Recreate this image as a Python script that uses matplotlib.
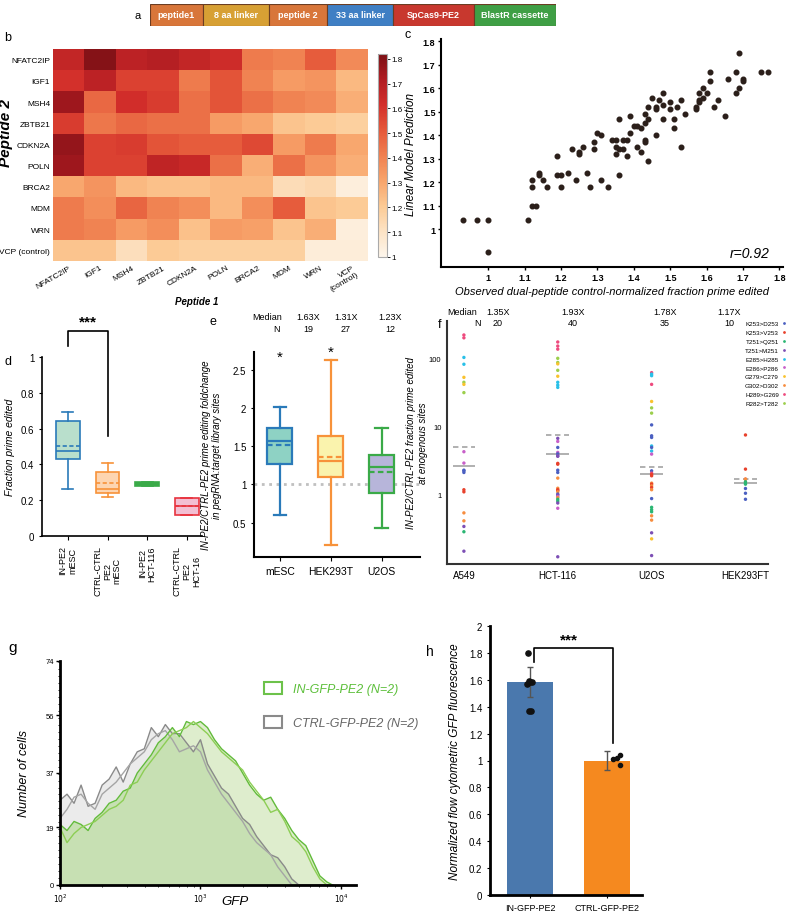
import numpy as np
import matplotlib.pyplot as plt
from matplotlib import font_manager
from matplotlib.colors import LinearSegmentedColormap
from matplotlib.patches import Patch
from matplotlib.lines import Line2D
from matplotlib.ticker import MultipleLocator, LogLocator, NullFormatter

plt.rcParams['font.family'] = ['Liberation Sans', 'DejaVu Sans']

W, H = 793, 912

# ---- panel a: construct ----
construct_parts = ["peptide1", "8 aa linker", "peptide 2", "33 aa linker", "SpCas9-PE2", "BlastR cassette"]
construct_len = [53, 66, 58, 66, 81, 82]
construct_colors = ["#d8763a", "#d7a034", "#d8763a", "#3f7fc4", "#c8382e", "#3f9f45"]

# ---- panel b: heatmap ----
peptides_1 = ["NFATC2IP", "IGF1", "MSH4", "ZBTB21", "CDKN2A", "POLN", "BRCA2", "MDM", "WRN", "VCP\n(control)"]
peptides_2 = ["NFATC2IP", "IGF1", "MSH4", "ZBTB21", "CDKN2A", "POLN", "BRCA2", "MDM", "WRN", "VCP (control)"]
heat = [
    [1.66, 1.80, 1.68, 1.70, 1.66, 1.63, 1.42, 1.40, 1.50, 1.38],
    [1.61, 1.68, 1.57, 1.57, 1.42, 1.52, 1.40, 1.33, 1.35, 1.25],
    [1.75, 1.47, 1.62, 1.58, 1.45, 1.52, 1.45, 1.40, 1.38, 1.28],
    [1.58, 1.43, 1.47, 1.45, 1.45, 1.33, 1.30, 1.22, 1.20, 1.18],
    [1.77, 1.57, 1.58, 1.52, 1.50, 1.50, 1.55, 1.33, 1.42, 1.30],
    [1.75, 1.57, 1.57, 1.67, 1.65, 1.45, 1.28, 1.45, 1.35, 1.28],
    [1.30, 1.35, 1.25, 1.23, 1.23, 1.25, 1.25, 1.13, 1.15, 1.04],
    [1.42, 1.37, 1.48, 1.40, 1.37, 1.25, 1.37, 1.50, 1.22, 1.20],
    [1.42, 1.40, 1.33, 1.37, 1.23, 1.33, 1.32, 1.22, 1.28, 1.04],
    [1.22, 1.22, 1.12, 1.20, 1.18, 1.18, 1.18, 1.18, 1.05, 1.05],
]

# ---- panel c: scatter ----
obs = [0.93, 0.97, 1.00, 1.00, 1.11, 1.12, 1.13, 1.12, 1.12, 1.14, 1.14, 1.15, 1.16, 1.19, 1.19, 1.20,
       1.20, 1.22, 1.23, 1.24, 1.25, 1.25, 1.26, 1.27, 1.28, 1.29, 1.29, 1.30, 1.31, 1.31, 1.33, 1.34,
       1.35, 1.35, 1.35, 1.36, 1.37, 1.36, 1.36, 1.37, 1.38, 1.38, 1.39, 1.39, 1.40, 1.41, 1.41, 1.42,
       1.42, 1.43, 1.43, 1.43, 1.43, 1.44, 1.44, 1.44, 1.45, 1.46, 1.46, 1.46, 1.47, 1.48, 1.48, 1.48,
       1.50, 1.50, 1.51, 1.51, 1.52, 1.53, 1.53, 1.54, 1.57, 1.57, 1.58, 1.58, 1.58, 1.59, 1.59, 1.60,
       1.61, 1.61, 1.62, 1.63, 1.65, 1.66, 1.68, 1.68, 1.69, 1.69, 1.70, 1.70, 1.75, 1.77]
pred = [1.04, 1.04, 1.04, 0.90, 1.04, 1.10, 1.10, 1.18, 1.21, 1.24, 1.23, 1.21, 1.18, 1.31, 1.23, 1.23,
        1.18, 1.24, 1.34, 1.21, 1.33, 1.32, 1.35, 1.24, 1.18, 1.37, 1.34, 1.41, 1.40, 1.21, 1.18, 1.38,
        1.38, 1.35, 1.32, 1.34, 1.34, 1.47, 1.23, 1.38, 1.38, 1.31, 1.48, 1.41, 1.44, 1.44, 1.35, 1.43,
        1.33, 1.45, 1.49, 1.38, 1.37, 1.47, 1.52, 1.29, 1.56, 1.40, 1.52, 1.51, 1.55, 1.58, 1.53, 1.47,
        1.54, 1.51, 1.47, 1.43, 1.52, 1.55, 1.35, 1.49, 1.52, 1.51, 1.58, 1.55, 1.54, 1.56, 1.60, 1.58,
        1.67, 1.63, 1.52, 1.55, 1.48, 1.64, 1.67, 1.58, 1.75, 1.60, 1.64, 1.63, 1.67, 1.67]

# ---- panel d: boxplots ----
d_labels = ["IN-PE2\nmESC", "CTRL-CTRL\nPE2\nmESC", "IN-PE2\nHCT-116", "CTRL-CTRL\nPE2\nHCT-16"]
d_whislo = [0.26, 0.22, 0.28, 0.12]
d_q1 = [0.43, 0.24, 0.28, 0.12]
d_med = [0.475, 0.265, 0.29, 0.165]
d_mean = [0.505, 0.295, 0.29, 0.165]
d_q3 = [0.64, 0.36, 0.30, 0.21]
d_whishi = [0.69, 0.41, 0.30, 0.21]
d_edge = ["#2a7ab9", "#f7923a", "#3aaa48", "#e8343f"]
d_face = ["#b9dfcc", "#fdd5b1", "#3aaa48", "#f3bfd3"]

# ---- panel e: boxplots ----
e_labels = ["mESC", "HEK293T", "U2OS"]
e_whislo = [0.60, 0.21, 0.43]
e_q1 = [1.27, 1.09, 0.89]
e_med = [1.57, 1.31, 1.23]
e_mean = [1.51, 1.36, 1.16]
e_q3 = [1.73, 1.63, 1.39]
e_whishi = [2.01, 2.62, 1.74]
e_edge = ["#2a7ab9", "#f7923a", "#3aaa48"]
e_face = ["#8ed2c4", "#faf3ad", "#b7b5da"]
e_median_txt = ["1.63X", "1.31X", "1.23X"]
e_n = ["19", "27", "12"]

# ---- panel f: endogenous sites ----
mutations = ["K253>D253", "K253>V253", "T251>Q251", "T251>M251", "E285>H285",
             "E286>P286", "G279>C279", "G302>D302", "H289>G269", "R282>T282"]
mut_colors = ["#4a5fc1", "#e8412c", "#2bb673", "#7d4fb5", "#29c0e8",
              "#c85fc9", "#f9c22e", "#f78d3f", "#ee4a7e", "#9ccf4c"]
f_lines = ["A549", "HCT-116", "U2OS", "HEK293FT"]
a549_vals = [218, 198, 102, 81, 52, 44, 41, 31, 4.2, 2.86, 2.25, 2.08, 2.2, 1.16, 1.08, 0.53, 0.405, 0.335, 0.28, 0.145]
a549_mut = [8, 8, 4, 4, 6, 9, 6, 9, 5, 5, 0, 0, 0, 1, 1, 7, 7, 3, 2, 3]
hct_vals = [172, 150, 135, 99, 86, 82, 66, 54, 44, 40, 37, 6.6, 5.95, 4.85, 4.1, 3.9, 3.65, 3.6, 2.83, 2.75,
            2.25, 2.08, 1.72, 1.22, 1.16, 1.13, 1.08, 1.0, 0.97, 0.92, 0.89, 0.84, 0.79, 0.74, 0.62, 0.12]
hct_mut = [8, 8, 8, 9, 9, 6, 9, 6, 4, 4, 4, 3, 5, 0, 5, 0, 3, 3, 1, 1,
           0, 0, 7, 7, 1, 1, 7, 0, 3, 5, 7, 2, 2, 3, 5, 3]
u2os_vals = [61, 58, 55, 41, 23, 18.5, 15.5, 10.4, 7.2, 6.8, 5.1, 4.85, 4.3, 3.87, 2.2, 2.03, 1.95, 1.86,
             1.45, 1.4, 1.32, 1.25, 1.16, 0.86, 0.64, 0.59, 0.55, 0.48, 0.415, 0.27, 0.22, 0.125]
u2os_mut = [8, 4, 4, 8, 6, 9, 9, 0, 0, 0, 4, 0, 4, 5, 0, 8, 1, 1,
            7, 1, 7, 1, 7, 0, 2, 2, 2, 7, 7, 3, 6, 3]
hek_vals = [7.4, 2.33, 1.66, 1.66, 1.52, 1.45, 1.40, 1.21, 1.03, 0.84]
hek_mut = [1, 1, 1, 7, 2, 2, 2, 0, 0, 0]
f_median = [2.55, 3.87, 1.97, 1.44]
f_mean = [5.0, 7.5, 2.52, 1.66]
f_median_txt = ["1.35X", "1.93X", "1.78X", "1.17X"]
f_n = ["20", "40", "35", "10"]

# ---- panel g: flow histograms ----
gfp_log = [2.00, 2.05, 2.10, 2.15, 2.20, 2.25, 2.30, 2.35, 2.40, 2.45, 2.50, 2.55, 2.60, 2.65, 2.70,
           2.75, 2.80, 2.85, 2.90, 2.95, 3.00, 3.05, 3.10, 3.15, 3.20, 3.25, 3.30, 3.35, 3.40, 3.45,
           3.50, 3.55, 3.60, 3.65, 3.70, 3.75, 3.80, 3.85, 3.90, 3.94]
in_rep1 = [20, 18, 21, 20, 18, 22, 24, 27, 28, 31, 32, 37, 40, 43, 47, 49, 52, 49, 54, 53,
           54, 52, 48, 45, 43, 41, 37, 33, 30, 28, 29, 25, 22, 18, 15, 13, 8, 3, 1, 0]
in_rep2 = [19, 14, 17, 19, 20, 21, 23, 25, 26, 28, 33, 34, 38, 41, 44, 47, 50, 51, 52, 54,
           52, 50, 47, 44, 42, 40, 38, 34, 31, 28, 24, 25, 21, 16, 14, 11, 6, 2, 0, 0]
ctrl_rep1 = [28, 30, 27, 33, 26, 27, 33, 35, 39, 34, 40, 44, 45, 52, 49, 53, 50, 50, 47, 44,
             48, 40, 36, 32, 30, 26, 22, 20, 16, 13, 10, 9, 6, 2, 0, 0, 0, 0, 0, 0]
ctrl_rep2 = [22, 25, 29, 30, 27, 25, 30, 32, 34, 37, 40, 42, 44, 48, 50, 51, 48, 44, 45, 46,
             44, 38, 34, 30, 27, 24, 21, 17, 14, 12, 10, 6, 3, 0, 0, 0, 0, 0, 0, 0]

# ---- panel h: bar chart ----
h_labels = ["IN-GFP-PE2", "CTRL-GFP-PE2"]
h_means = [1.585, 1.0]
h_err = [0.11, 0.07]
h_colors = ["#4a78ad", "#f5891f"]
in_dots = [1.80, 1.59, 1.58, 1.57, 1.585, 1.37, 1.37]
in_jitter = [-0.03, -0.02, 0.0, -0.04, 0.02, -0.01, 0.01]
ctrl_dots = [1.01, 1.02, 1.04, 0.97]
ctrl_jitter = [0.08, 0.13, 0.17, 0.17]

# narrow labels for the heatmap if the narrow face exists
installed = {f.name for f in font_manager.fontManager.ttflist}
if "Liberation Sans Narrow" in installed:
    hm_font, hm_size = ["Liberation Sans Narrow", "Liberation Sans"], 6.8
else:
    hm_font, hm_size = ["Liberation Sans", "DejaVu Sans"], 6.0

fig = plt.figure(figsize=(W / 100, H / 100), dpi=100)


def add_px(x0, y0, x1, y1):
    return fig.add_axes([x0 / W, 1 - y1 / H, (x1 - x0) / W, (y1 - y0) / H])


def ftext(x, y, s, **kw):
    fig.text(x / W, 1 - y / H, s, **kw)


# panel a ==============
ax = add_px(150, 5, 556, 27)
left = np.concatenate([[0], np.cumsum(construct_len)[:-1]])
ax.barh(0, construct_len, left=left, height=1, color=construct_colors, edgecolor="#6b3d22", lw=0.8)
for l, w, t in zip(left, construct_len, construct_parts):
    ax.text(l + w / 2, 0, t, ha="center", va="center", color="white", fontsize=6.5, fontweight="bold")
ax.set_xlim(0, sum(construct_len))
ax.set_ylim(-0.5, 0.5)
ax.axis("off")

# panel b ==============
cmap = LinearSegmentedColormap.from_list(
    "heat", ["#fdf6ec", "#fde3c4", "#fcca94", "#f8a46b", "#f08050", "#e5583a", "#d32f2b", "#b01c22", "#7c1015"])
ax = add_px(53, 50, 368, 262)
im = ax.imshow(np.array(heat), cmap=cmap, vmin=1, vmax=1.82, aspect="auto")
ax.set_xticks(range(10))
ax.set_xticklabels(peptides_1, rotation=30, ha="right", rotation_mode="anchor", fontsize=hm_size,
                   family=hm_font)
ax.set_yticks(range(10))
ax.set_yticklabels(peptides_2, fontsize=hm_size, family=hm_font)
ax.tick_params(length=0, pad=2)
for s in ax.spines.values():
    s.set_visible(False)
ax.set_xlabel("Peptide 1", fontsize=7, fontweight="bold", fontstyle="italic")
ax.xaxis.set_label_coords(0.457, -0.165)
ftext(6, 133, "Peptide 2", rotation=90, fontsize=11, fontweight="bold", fontstyle="italic",
      ha="center", va="center")
cax = add_px(378, 55, 387, 258)
cb = fig.colorbar(im, cax=cax, ticks=[1, 1.1, 1.2, 1.3, 1.4, 1.5, 1.6, 1.7, 1.8], format="%g")
cb.ax.tick_params(labelsize=5.8, length=2, width=0.6, pad=1)
cb.outline.set_edgecolor("#aaaaaa")

# panel c ==============
ax = add_px(441, 40, 783, 268)
ax.scatter(obs, pred, s=11, color="#2b1f1a", zorder=3)
ax.set_xlim(0.87, 1.81)
ax.set_ylim(0.838, 1.81)
ax.set_xticks([1, 1.1, 1.2, 1.3, 1.4, 1.5, 1.6, 1.7, 1.8])
ax.set_xticklabels(["1", "1.1", "1.2", "1.3", "1.4", "1.5", "1.6", "1.7", "1.8"])
ax.set_yticks([1, 1.1, 1.2, 1.3, 1.4, 1.5, 1.6, 1.7, 1.8])
ax.set_yticklabels(["1", "1.1", "1.2", "1.3", "1.4", "1.5", "1.6", "1.7", "1.8"])
for t in ax.get_xticklabels() + ax.get_yticklabels():
    t.set_fontweight("bold")
ax.tick_params(labelsize=6.5, length=2, width=1, pad=2)
ax.spines[["top", "right"]].set_visible(False)
ax.spines[["left", "bottom"]].set_linewidth(1.5)
ax.set_ylabel("Linear Model Prediction", fontsize=8.5, fontstyle="italic")
ax.yaxis.set_label_coords(-0.07, 0.5)
ax.set_xlabel("Observed dual-peptide control-normalized fraction prime edited", fontsize=8,
              fontstyle="italic", labelpad=3)
ax.text(0.96, 0.03, "r=0.92", transform=ax.transAxes, ha="right", va="bottom", fontsize=10, fontstyle="italic")


def style_box(bp, edges, faces, lw):
    for i, (ec, fc) in enumerate(zip(edges, faces)):
        bp["boxes"][i].set(facecolor=fc, edgecolor=ec, linewidth=lw)
        bp["medians"][i].set(color=ec, linewidth=lw)
        bp["means"][i].set(color=ec, linewidth=lw, linestyle=(0, (2.5, 1.5)))
        for j in (2 * i, 2 * i + 1):
            bp["whiskers"][j].set(color=ec, linewidth=lw)
            bp["caps"][j].set(color=ec, linewidth=lw)


# panel d ==============
ax = add_px(42, 358, 202, 537)
stats = [dict(whislo=a, q1=b, med=c, mean=m, q3=d, whishi=e)
         for a, b, c, m, d, e in zip(d_whislo, d_q1, d_med, d_mean, d_q3, d_whishi)]
bp = ax.bxp(stats, positions=[1, 2, 3, 4], widths=0.6, capwidths=0.28, patch_artist=True,
            showmeans=True, meanline=True, showfliers=False)
style_box(bp, d_edge, d_face, 1.2)
ax.set_xlim(0.35, 4.38)
ax.set_ylim(0, 1)
ax.set_yticks([0, 0.2, 0.4, 0.6, 0.8, 1])
ax.set_yticklabels(["0", "0.2", "0.4", "0.6", "0.8", "1"])
ax.set_xticks([1, 2, 3, 4])
ax.set_xticklabels(d_labels, rotation=90, fontsize=6.5, va="top", ha="center", linespacing=1.1)
ax.tick_params(axis="y", labelsize=7, length=2)
ax.tick_params(axis="x", length=3)
ax.spines[["top", "right"]].set_visible(False)
ax.spines[["left", "bottom"]].set_linewidth(1.2)
ax.set_ylabel("Fraction prime edited", fontsize=7.5, fontstyle="italic")
ax.yaxis.set_label_coords(-0.17, 0.5)
ax.plot([1, 1, 2, 2], [1.06, 1.146, 1.146, 0.556], color="black", lw=1.2, clip_on=False)
ax.text(1.5, 1.16, "***", ha="center", va="bottom", fontsize=11, fontweight="bold")

# panel e ==============
ax = add_px(254, 353, 420, 558)
stats = [dict(whislo=a, q1=b, med=c, mean=m, q3=d, whishi=e)
         for a, b, c, m, d, e in zip(e_whislo, e_q1, e_med, e_mean, e_q3, e_whishi)]
ax.axhline(1, color="#c0c0c0", ls=":", lw=2, zorder=0)
bp = ax.bxp(stats, positions=[1, 2, 3], widths=0.49, capwidths=0.25, patch_artist=True,
            showmeans=True, meanline=True, showfliers=False)
style_box(bp, e_edge, e_face, 1.6)
ax.set_xlim(0.49, 3.75)
ax.set_ylim(0.05, 2.73)
ax.set_yticks([0.5, 1, 1.5, 2, 2.5])
ax.set_yticklabels(["0.5", "1", "1.5", "2", "2.5"])
ax.set_xticks([1, 2, 3])
ax.set_xticklabels(e_labels, fontsize=7.5)
ax.tick_params(axis="y", labelsize=7, length=2)
ax.tick_params(axis="x", length=3)
ax.spines[["top", "right"]].set_visible(False)
ax.spines[["left", "bottom"]].set_linewidth(1.5)
ax.set_ylabel("IN-PE2/CTRL-PE2 prime editing foldchange\nin pegRNA:target library sites", fontsize=7,
              fontstyle="italic")
ax.yaxis.set_label_coords(-0.19, 0.5)
ax.text(1, 2.58, "*", ha="center", va="bottom", fontsize=11)
ax.text(2, 2.64, "*", ha="center", va="bottom", fontsize=11)
for xp, m, n in zip([1.55, 2.29, 3.16], e_median_txt, e_n):
    ax.text(xp, 1.16, m, transform=ax.get_xaxis_transform(), ha="center", fontsize=6.5)
    ax.text(xp, 1.1, n, transform=ax.get_xaxis_transform(), ha="center", fontsize=6.5)
ax.text(0.75, 1.16, "Median", transform=ax.get_xaxis_transform(), ha="center", fontsize=6.5)
ax.text(0.94, 1.1, "N", transform=ax.get_xaxis_transform(), ha="center", fontsize=6.5)

# panel f ==============
ax = add_px(447, 322, 768, 565)
for i, (vals, muts) in enumerate([(a549_vals, a549_mut), (hct_vals, hct_mut),
                                  (u2os_vals, u2os_mut), (hek_vals, hek_mut)]):
    ax.scatter([i + 1] * len(vals), vals, s=6, c=[mut_colors[m] for m in muts], zorder=3, lw=0)
    ax.hlines(f_median[i], i + 1 - 0.12, i + 1 + 0.12, color="#aaaaaa", lw=1.3, zorder=2)
    ax.hlines(f_mean[i], i + 1 - 0.12, i + 1 + 0.12, color="#aaaaaa", lw=1.3, ls=(0, (3, 2)), zorder=2)
ax.set_yscale("log")
ax.set_ylim(0.094, 350)
ax.set_xlim(0.82, 4.24)
ax.set_yticks([1, 10, 100])
ax.set_yticklabels(["1", "10", "100"])
ax.yaxis.set_minor_locator(plt.NullLocator())
ax.set_xticks([1, 2, 3, 4])
ax.set_xticklabels(f_lines, fontsize=7)
ax.tick_params(axis="y", labelsize=5.5, length=0, pad=4)
ax.tick_params(axis="x", length=0, pad=4)
ax.spines[["top", "right"]].set_visible(False)
ax.spines[["left", "bottom"]].set_linewidth(1.5)
ax.spines[["left", "bottom"]].set_color("#333333")
ax.set_ylabel("IN-PE2/CTRL-PE2 fraction prime edited\nat enogenous sites", fontsize=7,
              fontstyle="italic")
ax.yaxis.set_label_coords(-0.06, 0.5)
for xp, m, n in zip([1.36, 2.16, 3.14, 3.83], f_median_txt, f_n):
    ax.text(xp, 1.03, m, transform=ax.get_xaxis_transform(), ha="center", fontsize=6.5)
    ax.text(xp, 0.985, n, transform=ax.get_xaxis_transform(), ha="center", fontsize=6.5)
ax.text(0.98, 1.03, "Median", transform=ax.get_xaxis_transform(), ha="center", fontsize=6.5)
ax.text(1.14, 0.985, "N", transform=ax.get_xaxis_transform(), ha="center", fontsize=6.5)
handles = [Line2D([], [], marker="o", ls="none", ms=2, color=c, mew=0) for c in mut_colors]
ax.legend(handles, mutations, loc="upper right", bbox_to_anchor=(790 / W, 1 - 319 / H),
          bbox_transform=fig.transFigure, frameon=False, fontsize=4.5, markerfirst=False,
          handlelength=0.8, handletextpad=0.5, labelspacing=0.55, borderpad=0)

# panel g ==============
ax = add_px(60, 662, 356, 886)
gx = 10 ** np.array(gfp_log)
ax.fill_between(gx, 0, ctrl_rep1, color="#ebebeb", lw=0)
ax.fill_between(gx, 0, in_rep1, color="#deedcd", lw=0)
ax.fill_between(gx, 0, np.minimum(in_rep1, ctrl_rep1), color="#c7e0b3", lw=0)
ax.plot(gx, ctrl_rep1, color="#8a8a8a", lw=1)
ax.plot(gx, ctrl_rep2, color="#a5a5a5", lw=1)
ax.plot(gx, in_rep1, color="#62bb3b", lw=1)
ax.plot(gx, in_rep2, color="#8dce55", lw=1)
ax.set_xscale("log")
ax.set_xlim(100, 12800)
ax.set_ylim(0, 74)
ax.set_yticks([0, 19, 37, 56, 74])
ax.yaxis.set_minor_locator(MultipleLocator(2.3))
ax.set_xticks([100, 1000, 10000])
ax.set_xticklabels(["$10^2$", "$10^3$", "$10^4$"])
ax.xaxis.set_minor_locator(LogLocator(base=10, subs=np.arange(2, 10)))
ax.xaxis.set_minor_formatter(NullFormatter())
ax.tick_params(axis="both", labelsize=5.5, length=3, width=1, pad=1.5)
ax.tick_params(which="minor", length=1.5, width=0.6)
ax.spines[["top", "right"]].set_visible(False)
ax.spines[["left", "bottom"]].set_linewidth(2)
ax.set_xlabel("GFP", fontsize=9.5, fontstyle="italic")
ax.xaxis.set_label_coords(0.59, -0.045)
ax.set_ylabel("Number of cells", fontsize=9, fontstyle="italic")
ax.yaxis.set_label_coords(-0.1, 0.5)
leg_handles = [Patch(facecolor="none", edgecolor="#6cc24a", lw=1.5),
               Patch(facecolor="none", edgecolor="#8a8a8a", lw=1.5)]
leg = ax.legend(leg_handles, ["IN-GFP-PE2 (N=2)", "CTRL-GFP-PE2 (N=2)"], loc="upper left",
                bbox_to_anchor=(258 / W, 1 - 677 / H), bbox_transform=fig.transFigure, frameon=False,
                fontsize=9, handlelength=1.4, handleheight=1.1, handletextpad=0.9, labelspacing=1.6,
                borderpad=0)
for t, c in zip(leg.get_texts(), ["#5cbf3a", "#666666"]):
    t.set_color(c)
    t.set_fontstyle("italic")

# panel h ==============
ax = add_px(490, 627, 642, 896)
ax.bar([0, 1], h_means, width=0.6, color=h_colors, yerr=h_err, capsize=2,
       error_kw=dict(ecolor="#555555", elinewidth=1, capthick=1))
ax.scatter(np.array(in_jitter), in_dots, s=14, color="#111111", zorder=3)
ax.scatter(1 + np.array(ctrl_jitter), ctrl_dots, s=9, color="#111111", zorder=3)
ax.plot([0.05, 0.05, 1.07, 1.07], [1.73, 1.84, 1.84, 1.13], color="black", lw=1.2)
ax.text(0.5, 1.85, "***", ha="center", va="bottom", fontsize=11, fontweight="bold")
ax.set_xlim(-0.52, 1.45)
ax.set_ylim(0, 2)
ax.set_yticks(np.arange(0, 2.01, 0.2))
ax.set_yticklabels(["0", "0.2", "0.4", "0.6", "0.8", "1", "1.2", "1.4", "1.6", "1.8", "2"])
ax.set_xticks([0, 1])
ax.set_xticklabels(h_labels, fontsize=6.5)
ax.tick_params(axis="both", labelsize=7, length=2)
ax.tick_params(axis="x", labelsize=6.5)
ax.spines[["top", "right"]].set_visible(False)
ax.spines[["left", "bottom"]].set_linewidth(2)
ax.set_ylabel("Normalized flow cytometric GFP fluorescence", fontsize=8.5, fontstyle="italic")
ax.yaxis.set_label_coords(-0.19, 0.5)

# panel letters ==============
ftext(138, 16, "a", fontsize=8, ha="center", va="center")
ftext(8, 38, "b", fontsize=9, ha="center", va="center")
ftext(408, 35, "c", fontsize=9, ha="center", va="center")
ftext(8, 362, "d", fontsize=9, ha="center", va="center")
ftext(213, 322, "e", fontsize=9, ha="center", va="center")
ftext(440, 325, "f", fontsize=9, ha="center", va="center")
ftext(13, 648, "g", fontsize=11, ha="center", va="center")
ftext(430, 652, "h", fontsize=10, ha="center", va="center")

fig.savefig("out.png", dpi=100)
